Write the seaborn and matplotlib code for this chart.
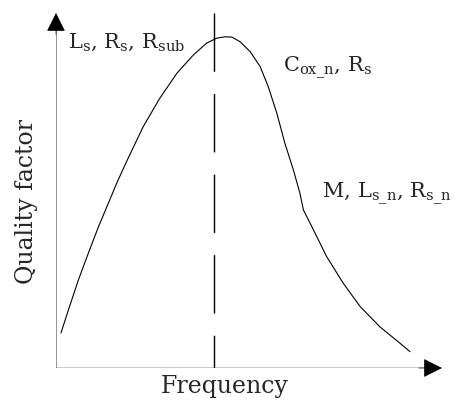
import matplotlib
matplotlib.use('Agg')
import matplotlib.pyplot as plt
import seaborn as sns

# schematic curve (frequency and quality on 0-100 scales)
freq = [1.3, 3.2, 5.8, 8.4, 11.0, 13.6, 15.7, 18.3, 22.6, 26.9, 31.3, 35.6, 39.0,
        41.6, 43.8, 45.6, 47.7, 50.3, 52.9, 55.0, 57.2, 59.3, 61.5, 63.2, 64.1,
        66.7, 70.1, 74.4, 78.8, 83.9, 89.1, 91.7]
quality = [9.9, 16.3, 24.8, 32.4, 39.8, 46.5, 52.0, 58.2, 68.0, 76.0, 83.0, 88.2, 91.5,
           92.9, 93.3, 93.2, 91.9, 89.1, 84.9, 79.2, 71.8, 63.3, 55.8, 49.2, 44.5,
           38.9, 31.4, 23.9, 17.3, 11.6, 7.0, 4.6]
peak_freq = 40.9

region_labels = [r'$\mathrm{L_s,\,R_s,\,R_{sub}}$',
                 r'$\mathrm{C_{ox\_n},\,R_s}$',
                 r'$\mathrm{M,\,L_{s\_n},\,R_{s\_n}}$']
region_x = [3.1, 58.8, 68.9]
region_y = [90.1, 83.4, 47.9]

sns.set_style('white')
plt.rcParams['font.family'] = ['DejaVu Serif']
plt.rcParams['mathtext.fontset'] = 'custom'
plt.rcParams['mathtext.rm'] = 'DejaVu Serif'
plt.rcParams['mathtext.it'] = 'DejaVu Serif:italic'

fig = plt.figure(figsize=(4.57, 4.0), dpi=100)
ax = fig.add_axes([56 / 457, 32 / 400, 386 / 457, 355 / 400])
ax.set_xlim(0, 100)
ax.set_ylim(0, 100)
ax.axis('off')

sns.lineplot(x=freq, y=quality, sort=False, color='black', lw=0.8, ax=ax)
ax.plot([peak_freq, peak_freq], [100, 0], color='black', lw=1.0,
        linestyle=(0, (42, 16)))

# axes with arrow heads
ax.plot([0, 0], [0, 97], color='#808080', lw=1.2, solid_capstyle='butt')
ax.plot([0, 97], [0, 0], color='black', lw=1.0, solid_capstyle='butt')
head = dict(arrowstyle='-|>,head_length=0.8,head_width=0.4', color='black',
            mutation_scale=15, shrinkA=0, shrinkB=0, lw=0.5)
ax.annotate('', xy=(0, 100), xytext=(0, 94), arrowprops=head, annotation_clip=False)
ax.annotate('', xy=(100, 0), xytext=(94, 0), arrowprops=head, annotation_clip=False)

for txt, x, y in zip(region_labels, region_x, region_y):
    ax.text(x, y, txt, fontsize=15, ha='left', va='baseline')

fig.text(225 / 457, 1 - 386 / 400, 'Frequency', fontsize=17, ha='center', va='center')
fig.text(27 / 457, 1 - 201 / 400, 'Quality factor', fontsize=17, ha='center',
         va='center', rotation=90)

plt.savefig('out.png', dpi=100)
plt.close()
